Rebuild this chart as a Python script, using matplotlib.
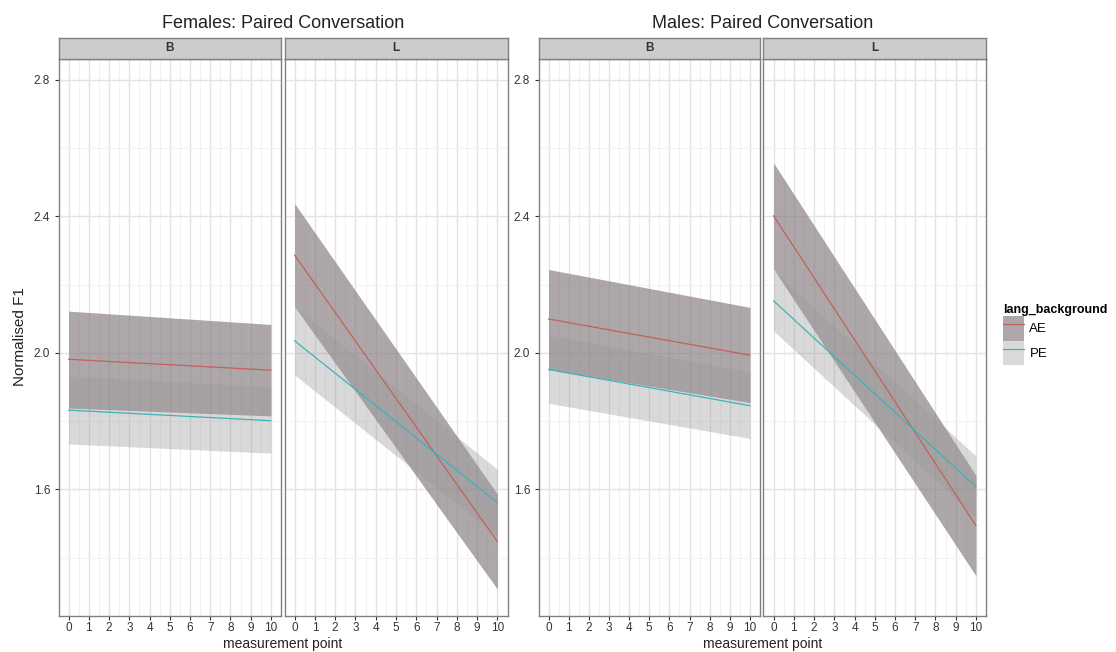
import numpy as np
import matplotlib
matplotlib.use("Agg")
import matplotlib.pyplot as plt
from matplotlib.patches import Patch
from matplotlib.lines import Line2D

plt.rcParams['font.family'] = ['Liberation Sans', 'DejaVu Sans']

x_ends = [0, 10]
groups = ["Females: Paired Conversation", "Males: Paired Conversation"]
facets = ["B", "L"]

# Females
fem_B_AE_fit = [1.981, 1.949]
fem_B_AE_lo = [1.838, 1.815]
fem_B_AE_hi = [2.122, 2.083]
fem_B_PE_fit = [1.832, 1.801]
fem_B_PE_lo = [1.733, 1.706]
fem_B_PE_hi = [1.932, 1.900]

fem_L_AE_fit = [2.286, 1.447]
fem_L_AE_lo = [2.135, 1.308]
fem_L_AE_hi = [2.437, 1.586]
fem_L_PE_fit = [2.035, 1.561]
fem_L_PE_lo = [1.935, 1.463]
fem_L_PE_hi = [2.135, 1.659]

# Males
mal_B_AE_fit = [2.099, 1.993]
mal_B_AE_lo = [1.951, 1.854]
mal_B_AE_hi = [2.244, 2.133]
mal_B_PE_fit = [1.951, 1.845]
mal_B_PE_lo = [1.852, 1.749]
mal_B_PE_hi = [2.052, 1.944]

mal_L_AE_fit = [2.401, 1.494]
mal_L_AE_lo = [2.245, 1.347]
mal_L_AE_hi = [2.556, 1.641]
mal_L_PE_fit = [2.152, 1.608]
mal_L_PE_lo = [2.064, 1.518]
mal_L_PE_hi = [2.240, 1.698]

panels = {
    (0, 0): (fem_B_AE_fit, fem_B_AE_lo, fem_B_AE_hi, fem_B_PE_fit, fem_B_PE_lo, fem_B_PE_hi),
    (0, 1): (fem_L_AE_fit, fem_L_AE_lo, fem_L_AE_hi, fem_L_PE_fit, fem_L_PE_lo, fem_L_PE_hi),
    (1, 0): (mal_B_AE_fit, mal_B_AE_lo, mal_B_AE_hi, mal_B_PE_fit, mal_B_PE_lo, mal_B_PE_hi),
    (1, 1): (mal_L_AE_fit, mal_L_AE_lo, mal_L_AE_hi, mal_L_PE_fit, mal_L_PE_lo, mal_L_PE_hi),
}

ae_col = "#C4605A"
pe_col = "#3BB3B8"
ae_fill = "#7C7276"
pe_fill = "#999999"
ae_alpha = 0.62
pe_alpha = 0.37

W, H = 1116, 652
fig = plt.figure(figsize=(W / 100, H / 100), dpi=100)

def rect(x0, x1, y0, y1):
    return [x0 / W, 1 - y1 / H, (x1 - x0) / W, (y1 - y0) / H]

panel_x = {(0, 0): (58.5, 281), (0, 1): (284.5, 507.5),
           (1, 0): (538.5, 760), (1, 1): (763.5, 986)}
top, bot = 58.5, 616
strip_top = 37.5

for (g, f), (a_fit, a_lo, a_hi, p_fit, p_lo, p_hi) in panels.items():
    x0, x1 = panel_x[(g, f)]
    ax = fig.add_axes(rect(x0, x1, top, bot))
    ax.fill_between(x_ends, a_lo, a_hi, color=ae_fill, alpha=ae_alpha, lw=0, zorder=2)
    ax.fill_between(x_ends, p_lo, p_hi, color=pe_fill, alpha=pe_alpha, lw=0, zorder=2)
    ax.plot(x_ends, a_fit, color=ae_col, lw=0.9, zorder=3)
    ax.plot(x_ends, p_fit, color=pe_col, lw=0.9, zorder=3)
    ax.set_xlim(-0.5, 10.5)
    ax.set_ylim(1.229, 2.862)
    ax.set_xticks(range(11))
    ax.set_xticks(np.arange(0.5, 10, 1), minor=True)
    ax.set_yticks([1.6, 2.0, 2.4, 2.8])
    ax.set_yticks([1.4, 1.8, 2.2, 2.6], minor=True)
    ax.set_yticklabels(["1.6", "2.0", "2.4", "2.8"])
    ax.set_axisbelow(True)
    ax.grid(which='major', color='#E3E3E3', lw=1.0)
    ax.grid(which='minor', color='#F2F2F2', lw=0.8)
    ax.tick_params(which='major', direction='out', length=3, width=0.8, color='#333333',
                   labelsize=8.5, labelcolor='#333333')
    ax.tick_params(axis='x', pad=1)
    ax.tick_params(axis='y', pad=3)
    ax.tick_params(which='minor', length=0)
    if f == 1:
        ax.tick_params(axis='y', left=False, labelleft=False)
    for s in ax.spines.values():
        s.set_color('#808080')
        s.set_linewidth(1.0)

    # facet strip
    sax = fig.add_axes(rect(x0, x1, strip_top, top))
    sax.set_facecolor('#CCCCCC')
    sax.set_xticks([])
    sax.set_yticks([])
    for s in sax.spines.values():
        s.set_color('#808080')
        s.set_linewidth(1.0)
    sax.text(0.5, 0.5, facets[f], ha='center', va='center', fontsize=8.5,
             fontweight='bold', color='#333333', transform=sax.transAxes)

for g in range(2):
    cx = (panel_x[(g, 0)][0] + panel_x[(g, 1)][1]) / 2
    fig.text(cx / W, 1 - 23 / H, groups[g], ha='center', va='center', fontsize=13, color='#222222')
    fig.text(cx / W, 1 - 651 / H, "measurement point", ha='center', va='bottom', fontsize=10, color='#222222')

fig.text(20 / W, 1 - 337 / H, "Normalised F1", rotation=90, ha='center', va='center',
         fontsize=11, color='#222222')

handles = [(Patch(facecolor=ae_fill, alpha=ae_alpha, lw=0), Line2D([], [], color=ae_col, lw=0.9)),
           (Patch(facecolor=pe_fill, alpha=pe_alpha, lw=0), Line2D([], [], color=pe_col, lw=0.9))]
fig.legend(handles, ["AE", "PE"], title="lang_background", loc='upper left',
           bbox_to_anchor=(1003 / W, 1 - 304 / H), frameon=False, fontsize=9.5,
           title_fontproperties={'weight': 'bold', 'size': 9}, alignment='left',
           handlelength=1.6, handleheight=2.5, labelspacing=0, handletextpad=0.4,
           borderpad=0, borderaxespad=0)

plt.savefig("out.png", dpi=100)
